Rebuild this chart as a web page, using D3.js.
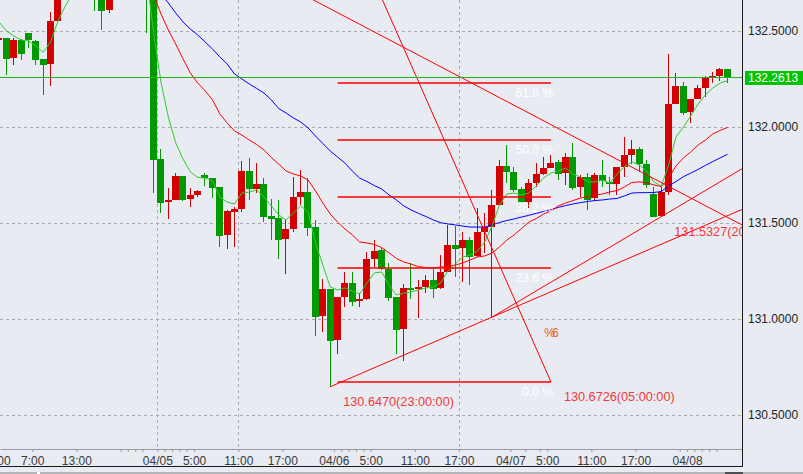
<!DOCTYPE html>
<html>
<head>
<meta charset="utf-8">
<script src="https://cdn.jsdelivr.net/npm/d3@7"></script>
<style>
  html, body { margin: 0; padding: 0; background: #e8ebf2; }
  svg { display: block; font-family: "Liberation Sans", Arial, sans-serif; }
  .axis text { font-size: 12px; }
</style>
</head>
<body>
<svg id="chart" width="803" height="474"></svg>
<script>

// hourly candles, hour 0 = 04/05 00:00, first candle is hour START_HOUR
const START_HOUR = -22;

const OPEN = [132.453,132.464,132.361,132.453,132.490,132.448,132.354,132.330,132.552,132.740,
  132.800,132.860,132.820,132.780,132.720,132.611,132.700,132.750,132.730,132.760,132.740,132.720,
  131.832,131.609,131.620,131.745,131.625,131.646,131.750,131.733,131.688,131.438,
  131.559,131.573,131.771,131.677,131.703,131.537,131.524,131.417,131.469,131.637,
  131.663,131.481,131.017,131.155,130.891,131.116,131.186,131.095,131.104,131.311,
  131.359,131.260,131.116,130.948,131.163,131.158,131.168,131.203,131.163,131.246,
  131.385,131.371,131.411,131.328,131.455,131.481,131.594,131.797,131.764,131.677,
  131.611,131.710,131.755,131.788,131.816,131.759,131.844,131.689,131.741,131.629,
  131.750,131.715,131.703,131.793,131.854,131.885,131.806,131.651,131.536,131.661,
  132.120,132.214,132.080,132.146,132.205,132.257,132.266,132.302];

const HIGH = [132.469,132.464,132.464,132.458,132.490,132.453,132.354,132.599,132.766,132.840,
  132.900,132.920,132.850,132.800,132.730,132.720,132.780,132.790,132.800,132.780,132.770,132.740,
  131.885,131.681,131.759,131.745,131.681,131.672,131.759,131.733,131.688,131.568,
  131.585,131.823,131.837,131.813,131.733,131.624,131.620,131.516,131.741,131.776,
  131.733,131.516,131.208,131.155,131.116,131.243,131.243,131.134,131.351,131.411,
  131.370,131.290,131.116,131.181,131.290,131.203,131.229,131.260,131.332,131.490,
  131.484,131.455,131.427,131.580,131.552,131.672,131.828,131.906,131.793,131.689,
  131.731,131.811,131.845,131.854,131.828,131.866,131.915,131.750,131.760,131.760,
  131.828,131.741,131.793,131.950,131.932,131.894,131.828,131.689,131.689,132.380,
  132.280,132.236,132.146,132.219,132.266,132.288,132.309,132.302];

const LOW = [132.448,132.271,132.325,132.349,132.413,132.325,132.168,132.215,132.552,132.720,
  132.780,132.790,132.740,132.604,132.505,132.595,132.680,132.700,132.710,132.700,132.490,131.658,
  131.554,131.521,131.620,131.615,131.585,131.637,131.693,131.632,131.373,131.363,
  131.377,131.559,131.620,131.656,131.507,131.411,131.313,131.234,131.455,131.594,
  131.432,130.912,130.934,130.647,130.818,131.064,131.068,131.064,131.099,131.272,
  131.255,131.094,130.818,130.783,131.104,131.007,131.137,131.111,131.155,131.245,
  131.221,131.191,131.177,131.323,131.344,131.010,131.594,131.707,131.663,131.609,
  131.577,131.689,131.750,131.786,131.724,131.698,131.672,131.637,131.568,131.615,
  131.689,131.646,131.646,131.741,131.806,131.764,131.681,131.531,131.533,131.646,
  132.120,132.063,132.019,132.146,132.158,132.231,132.240,132.231];

const CLOSE = [132.464,132.356,132.453,132.382,132.453,132.349,132.325,132.552,132.740,132.800,
  132.860,132.820,132.780,132.720,132.604,132.700,132.750,132.730,132.760,132.740,132.720,131.828,
  131.606,131.620,131.745,131.620,131.646,131.667,131.733,131.684,131.434,131.561,
  131.573,131.771,131.676,131.703,131.533,131.522,131.411,131.469,131.637,131.663,
  131.476,131.012,131.155,130.887,131.116,131.186,131.090,131.104,131.311,131.354,
  131.260,131.111,130.943,131.163,131.151,131.168,131.203,131.158,131.245,131.385,
  131.365,131.411,131.325,131.455,131.478,131.594,131.797,131.764,131.672,131.611,
  131.710,131.754,131.788,131.814,131.754,131.844,131.681,131.741,131.620,131.750,
  131.719,131.702,131.793,131.854,131.885,131.806,131.696,131.533,131.661,132.120,
  132.214,132.075,132.146,132.202,132.257,132.266,132.302,132.2613];

// moving averages, one value per candle from their start hour
const MA_GREEN_START = -22;
const MA_GREEN = [132.547,132.500,132.474,132.453,132.448,132.422,132.389,132.444,132.552,132.630,
  132.700,132.740,132.770,132.790,132.790,132.780,132.760,132.750,132.740,132.760,132.800,132.490,
  132.234,132.052,131.917,131.833,131.766,131.737,131.734,131.719,131.635,131.609,
  131.599,131.656,131.661,131.672,131.635,131.589,131.542,131.516,131.552,131.589,
  131.557,131.396,131.281,131.167,131.151,131.162,131.146,131.130,131.188,131.240,
  131.245,131.177,131.125,131.135,131.141,131.151,131.162,131.167,131.188,131.250,
  131.286,131.323,131.333,131.354,131.401,131.484,131.594,131.651,131.656,131.646,
  131.656,131.693,131.734,131.760,131.771,131.786,131.755,131.740,131.714,131.714,
  131.724,131.708,131.755,131.792,131.818,131.802,131.771,131.714,131.693,131.802,
  131.948,132.000,132.057,132.120,132.167,132.203,132.229,132.241];

const MA_RED_START = -2;
const MA_RED = [132.760,132.688,
  132.589,132.505,132.432,132.354,132.281,132.229,132.188,132.141,132.068,132.021,
  131.979,131.958,131.932,131.909,131.880,131.841,131.807,131.771,131.755,131.745,
  131.724,131.667,131.604,131.547,131.505,131.469,131.438,131.401,131.396,131.388,
  131.372,131.344,131.315,131.297,131.286,131.273,131.268,131.266,131.271,131.273,
  131.281,131.292,131.307,131.323,131.328,131.344,131.375,131.411,131.438,131.471,
  131.505,131.523,131.547,131.562,131.589,131.604,131.617,131.630,131.638,131.646,
  131.651,131.662,131.669,131.688,131.711,131.714,131.710,131.698,131.690,131.734,
  131.797,131.839,131.870,131.906,131.932,131.964,131.982,131.998];

const MA_BLUE_START = -1;
const MA_BLUE = [132.760,
  132.693,132.646,132.594,132.547,132.510,132.479,132.443,132.406,132.365,132.328,
  132.276,132.250,132.224,132.201,132.177,132.141,132.096,132.073,132.047,132.026,
  131.995,131.953,131.914,131.875,131.844,131.812,131.771,131.734,131.716,131.695,
  131.677,131.646,131.620,131.589,131.568,131.550,131.534,131.516,131.502,131.495,
  131.490,131.484,131.479,131.479,131.479,131.490,131.503,131.513,131.521,131.531,
  131.540,131.550,131.560,131.570,131.581,131.591,131.599,131.606,131.612,131.617,
  131.620,131.625,131.628,131.641,131.656,131.658,131.658,131.659,131.664,131.693,
  131.716,131.741,131.760,131.779,131.800,131.820,131.839,131.858];

const PRICE_TICKS = [132.5, 132.0, 131.5, 131.0, 130.5];
const X_TICKS = [-21.6, -17, -11, 0, 5, 11, 17, 24, 29, 35, 41, 48, 53, 59, 65, 72];
const X_TICK_LABELS = ["1:00", "7:00", "13:00", "04/05", "5:00", "11:00", "17:00", "04/06",
  "5:00", "11:00", "17:00", "04/07", "5:00", "11:00", "17:00", "04/08"];
const X_MINOR_TICKS = [-5, -4, -3, -2, 1, 2, 3, 4, 25, 26, 27, 28, 50, 52, 71, 73, 74, 75, 76];
const X_GRID = [0, 11, 41];

const LAST_PRICE = 132.2613;

// fibonacci retracement: 100% point and 0% point (hour at candle centre, price)
const FIB_FROM = [24.5, 133.192];
const FIB_TO = [53.5, 130.6726];
const FIB_LEVELS = [1, 0.618, 0.5, 0.382, 0.236, 0];
const FIB_LABELS = ["100.0 %", "61.8 %", "50.0 %", "38.2 %", "23.6 %", "0.0 %"];

// trend lines: two anchors (hour, price) and how far they run
const TREND_LINES = [
  {from: [21.2, 132.662], to: [79.47, 131.490], extend: "both"},
  {from: [45.5, 131.010], to: [68.5, 131.533], extend: "right"},
  {from: [23.5, 130.647], to: [45.5, 131.010], extend: "right"}
];

const POINT_LABELS = [
  {hour: 23.5, price: 130.6470, text: "130.6470(23:00:00)"},
  {hour: 53.5, price: 130.6726, text: "130.6726(05:00:00)"},
  {hour: 68.5, price: 131.5327, text: "131.5327(20:00:00)"}
];
const MARK = {hour: 52.6, price: 130.906, text: "%6"};

// ---- layout and colours
const PLOT_W = 742;
const PLOT_H = 449;
const BG = "#e8ebf2";
const UP = "#d20000";
const DOWN = "#009a00";

const x = d3.scaleLinear().domain([-21.38, 79.47]).range([0, PLOT_W]);
const y = d3.scaleLinear().domain([130.5, 132.5]).range([415, 31]);
const crisp = v => Math.round(v) + 0.5;

const svg = d3.select("#chart");

svg.append("rect").attr("width", 803).attr("height", 474).attr("fill", BG);

svg.append("defs").append("clipPath").attr("id", "plot")
   .append("rect").attr("width", PLOT_W).attr("height", PLOT_H);

const plot = svg.append("g").attr("clip-path", "url(#plot)");

/*
  Grid
*/
const grid = plot.append("g")
                 .attr("stroke", "#a9abb0")
                 .attr("stroke-dasharray", "3,3");

grid.selectAll(".h").data(PRICE_TICKS).enter().append("line")
    .attr("x1", 0).attr("x2", PLOT_W)
    .attr("y1", d => crisp(y(d))).attr("y2", d => crisp(y(d)));

grid.selectAll(".v").data(X_GRID).enter().append("line")
    .attr("y1", 0).attr("y2", PLOT_H)
    .attr("x1", d => crisp(x(d))).attr("x2", d => crisp(x(d)));

/*
  Candles
*/
const candles = OPEN.map((o, i) => ({
  t: START_HOUR + i, o: o, h: HIGH[i], l: LOW[i], c: CLOSE[i]
}));
const colorOf = d => d.c >= d.o ? UP : DOWN;

const cg = plot.append("g").attr("shape-rendering", "crispEdges");

cg.selectAll(".wick").data(candles).enter().append("line")
  .attr("x1", d => Math.round(x(d.t)) + 3.5)
  .attr("x2", d => Math.round(x(d.t)) + 3.5)
  .attr("y1", d => y(d.h))
  .attr("y2", d => y(d.l))
  .attr("stroke", colorOf);

cg.selectAll(".body").data(candles).enter().append("rect")
  .attr("x", d => Math.round(x(d.t)))
  .attr("width", 7)
  .attr("y", d => y(Math.max(d.o, d.c)))
  .attr("height", d => Math.max(1, Math.abs(y(d.o) - y(d.c))))
  .attr("fill", colorOf);

/*
  Moving averages
*/
const drawMA = (values, start, color) => {
  const line = d3.line()
                 .x((d, i) => x(start + i + 0.5))
                 .y(d => y(d));
  plot.append("path")
      .attr("d", line(values))
      .attr("fill", "none")
      .attr("stroke", color)
      .attr("stroke-width", 1);
};

drawMA(MA_BLUE, MA_BLUE_START, "#0000ff");
drawMA(MA_RED, MA_RED_START, "#ff0000");
drawMA(MA_GREEN, MA_GREEN_START, "#2ecc2e");

/*
  Fibonacci retracement
*/
const fibX1 = x(FIB_FROM[0]);
const fibX2 = x(FIB_TO[0]);
const fibPrice = lvl => FIB_TO[1] + (FIB_FROM[1] - FIB_TO[1]) * lvl;

plot.append("line")
    .attr("x1", fibX1).attr("y1", y(FIB_FROM[1]))
    .attr("x2", fibX2).attr("y2", y(FIB_TO[1]))
    .attr("stroke", "#ff0000");

plot.selectAll(".fib").data(FIB_LEVELS).enter().append("line")
    .attr("x1", fibX1).attr("x2", fibX2)
    .attr("y1", d => Math.round(y(fibPrice(d))))
    .attr("y2", d => Math.round(y(fibPrice(d))))
    .attr("stroke", "#ff0000")
    .attr("stroke-width", 1.4);

plot.selectAll(".fib-label").data(FIB_LEVELS).enter().append("text")
    .attr("x", fibX2 + 2)
    .attr("y", d => y(fibPrice(d)) + 14.5)
    .attr("text-anchor", "end")
    .attr("font-size", "12px")
    .attr("fill", "#ffffff")
    .text((d, i) => FIB_LABELS[i]);

/*
  Trend lines
*/
TREND_LINES.forEach(tl => {
  const ax = x(tl.from[0]), ay = y(tl.from[1]);
  const dx = x(tl.to[0]) - ax, dy = y(tl.to[1]) - ay;
  const kEnd = (800 - ax) / dx;
  const kStart = tl.extend === "both" ? (-50 - ax) / dx : 0;
  plot.append("line")
      .attr("x1", ax + dx * kStart).attr("y1", ay + dy * kStart)
      .attr("x2", ax + dx * kEnd).attr("y2", ay + dy * kEnd)
      .attr("stroke", "#ff0000");
});

/*
  Point labels
*/
plot.selectAll(".pt-label").data(POINT_LABELS).enter().append("text")
    .attr("x", d => x(d.hour) + 13)
    .attr("y", d => y(d.price) + 19)
    .attr("font-size", "12.7px")
    .attr("fill", "#f03a3a")
    .text(d => d.text);

plot.append("text")
    .attr("x", x(MARK.hour))
    .attr("y", y(MARK.price))
    .attr("font-size", "12px")
    .attr("letter-spacing", "-3px")
    .attr("fill", "#ee5a2a")
    .text(MARK.text);

/*
  Current price line
*/
plot.append("line")
    .attr("x1", 0).attr("x2", PLOT_W)
    .attr("y1", crisp(y(LAST_PRICE))).attr("y2", crisp(y(LAST_PRICE)))
    .attr("stroke", "#1db41d");

/*
  Axes
*/
const yAxis = svg.append("g")
                 .attr("class", "axis")
                 .attr("transform", `translate(${PLOT_W},0)`)
                 .call(d3.axisRight(y)
                         .tickValues(PRICE_TICKS)
                         .tickFormat(d3.format(".4f"))
                         .tickSize(0)
                         .tickPadding(6));
yAxis.select(".domain").remove();
yAxis.selectAll("text").attr("fill", "#222");

const xAxis = svg.append("g")
                 .attr("class", "axis")
                 .attr("transform", `translate(0,${PLOT_H})`)
                 .call(d3.axisBottom(x)
                         .tickValues(X_TICKS)
                         .tickFormat((d, i) => X_TICK_LABELS[i])
                         .tickSizeInner(3)
                         .tickSizeOuter(0)
                         .tickPadding(4));
xAxis.select(".domain").attr("stroke", "#9a9a9a");
xAxis.selectAll(".tick line").attr("stroke", "#9a9a9a");
xAxis.selectAll("text").attr("fill", "#3a3a3a");

const xMinor = svg.append("g")
                  .attr("transform", `translate(0,${PLOT_H})`)
                  .call(d3.axisBottom(x)
                          .tickValues(X_MINOR_TICKS)
                          .tickFormat("")
                          .tickSize(3));
xMinor.select(".domain").remove();
xMinor.selectAll(".tick line").attr("stroke", "#9a9a9a");

// frame
svg.append("line")
   .attr("x1", 0).attr("x2", PLOT_W + 1)
   .attr("y1", 466.5).attr("y2", 466.5)
   .attr("stroke", "#1a1a1a");
svg.append("line")
   .attr("x1", PLOT_W + 0.5).attr("x2", PLOT_W + 0.5)
   .attr("y1", 0).attr("y2", 467)
   .attr("stroke", "#1a1a1a");

// scrollbar strip
svg.append("rect").attr("x", 0).attr("y", 472).attr("width", 803).attr("height", 2).attr("fill", "#b4b6ba");
svg.append("rect").attr("x", 37).attr("y", 472).attr("width", 3).attr("height", 2).attr("fill", "#ffffff");
svg.append("rect").attr("x", 725).attr("y", 472).attr("width", 18).attr("height", 2).attr("fill", "#505050");

// current price tag
svg.append("rect")
   .attr("x", PLOT_W + 3).attr("y", Math.round(y(LAST_PRICE)) - 6)
   .attr("width", 58).attr("height", 14)
   .attr("fill", "#00c400");
svg.append("text")
   .attr("x", PLOT_W + 6).attr("y", y(LAST_PRICE) + 5)
   .attr("font-size", "12px")
   .attr("fill", "#ffffff")
   .text(d3.format(".4f")(LAST_PRICE));

</script>
</body>
</html>
